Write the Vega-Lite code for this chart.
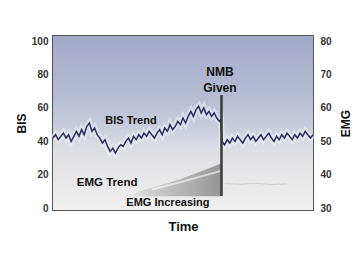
{
  "$schema": "https://vega.github.io/schema/vega-lite/v6.json",
  "width": 260,
  "height": 174,
  "autosize": "none",
  "padding": {"left": 53, "top": 36, "right": 44, "bottom": 50},
  "background": "white",
  "config": {
    "view": {"stroke": "#555555", "strokeWidth": 2},
    "font": "Liberation Sans",
    "axis": {"labelFont": "Liberation Sans", "labelFontWeight": "bold", "labelFontSize": 10, "labelColor": "#333333", "labelOverlap": false, "titleFont": "Liberation Sans", "titleFontWeight": "bold", "titleFontSize": 12, "titleColor": "#111111", "grid": false, "ticks": false, "domain": false}
  },
  "datasets": {
    "bis": [
      {"t":0,"bis":42},{"t":1,"bis":44},{"t":2,"bis":41},{"t":3,"bis":43},{"t":4,"bis":45},{"t":5,"bis":42},{"t":6,"bis":44},{"t":7,"bis":40},{"t":8,"bis":43},{"t":9,"bis":46},
      {"t":10,"bis":43},{"t":11,"bis":47},{"t":12,"bis":44},{"t":13,"bis":49},{"t":14,"bis":51},{"t":15,"bis":46},{"t":16,"bis":48},{"t":17,"bis":44},{"t":18,"bis":42},{"t":19,"bis":39},
      {"t":20,"bis":41},{"t":21,"bis":37},{"t":22,"bis":34},{"t":23,"bis":36},{"t":24,"bis":33},{"t":25,"bis":36},{"t":26,"bis":38},{"t":27,"bis":37},{"t":28,"bis":40},{"t":29,"bis":42},
      {"t":30,"bis":39},{"t":31,"bis":43},{"t":32,"bis":41},{"t":33,"bis":44},{"t":34,"bis":42},{"t":35,"bis":45},{"t":36,"bis":43},{"t":37,"bis":46},{"t":38,"bis":44},{"t":39,"bis":42},
      {"t":40,"bis":45},{"t":41,"bis":47},{"t":42,"bis":44},{"t":43,"bis":48},{"t":44,"bis":46},{"t":45,"bis":50},{"t":46,"bis":47},{"t":47,"bis":49},{"t":48,"bis":52},{"t":49,"bis":50},
      {"t":50,"bis":54},{"t":51,"bis":51},{"t":52,"bis":55},{"t":53,"bis":58},{"t":54,"bis":55},{"t":55,"bis":59},{"t":56,"bis":61},{"t":57,"bis":57},{"t":58,"bis":60},{"t":59,"bis":56},
      {"t":60,"bis":58},{"t":61,"bis":55},{"t":62,"bis":57},{"t":63,"bis":54},{"t":64,"bis":52},{"t":64.6,"bis":53},{"t":65,"bis":40},{"t":66,"bis":38},{"t":67,"bis":41},{"t":68,"bis":39},{"t":69,"bis":42},
      {"t":70,"bis":40},{"t":71,"bis":43},{"t":72,"bis":41},{"t":73,"bis":39},{"t":74,"bis":42},{"t":75,"bis":44},{"t":76,"bis":41},{"t":77,"bis":43},{"t":78,"bis":40},{"t":79,"bis":42},
      {"t":80,"bis":44},{"t":81,"bis":41},{"t":82,"bis":43},{"t":83,"bis":45},{"t":84,"bis":42},{"t":85,"bis":40},{"t":86,"bis":43},{"t":87,"bis":41},{"t":88,"bis":44},{"t":89,"bis":42},
      {"t":90,"bis":45},{"t":91,"bis":43},{"t":92,"bis":41},{"t":93,"bis":44},{"t":94,"bis":42},{"t":95,"bis":45},{"t":96,"bis":43},{"t":97,"bis":46},{"t":98,"bis":44},{"t":99,"bis":42},{"t":100,"bis":44}
    ],
    "emg": [
      {"t":30,"emg":33.8},{"t":33,"emg":35.0},{"t":36,"emg":35.8},{"t":40,"emg":36.6},{"t":44,"emg":37.5},{"t":48,"emg":38.5},{"t":52,"emg":39.6},{"t":56,"emg":40.8},{"t":60,"emg":42.0},{"t":63,"emg":42.9},{"t":64.6,"emg":43.4}
    ],
    "emgStreak": [
      {"t":38,"emg":35.6},{"t":50,"emg":38.0},{"t":64.6,"emg":41.2}
    ],
    "emgPost": [
      {"t":66,"emg":37.4},{"t":72,"emg":37.2},{"t":78,"emg":37.5},{"t":84,"emg":37.1},{"t":90,"emg":37.3}
    ],
    "nmb": [{"t":64.8,"top":67.7,"bottom":7.4}],
    "notes": [
      {"t":30,"bis":52.2,"label":"BIS Trend","size":11},
      {"t":64.2,"bis":81.5,"label":"NMB","size":12},
      {"t":64.2,"bis":72.0,"label":"Given","size":12},
      {"t":20.8,"bis":15.1,"label":"EMG Trend","size":11.5},
      {"t":44.2,"bis":3.2,"label":"EMG Increasing","size":11}
    ]
  },
  "resolve": {"scale": {"y": "independent"}},
  "layer": [
    {
      "layer": [
        {
          "data": {"values": [{}]},
          "mark": {"type": "rect", "fill": {"gradient": "linear", "x1": 0, "y1": 0, "x2": 0, "y2": 1, "stops": [
            {"offset": 0, "color": "#a4a8c8"},
            {"offset": 0.35, "color": "#b7bcd4"},
            {"offset": 0.55, "color": "#cbcfde"},
            {"offset": 0.63, "color": "#dbdce3"},
            {"offset": 0.72, "color": "#e2e2e4"},
            {"offset": 1, "color": "#f0f0f0"}
          ]}},
          "encoding": {
            "x": {"datum": 0, "type": "quantitative", "scale": {"domain": [0, 100], "nice": false}},
            "x2": {"datum": 100},
            "y": {"datum": 29.5, "type": "quantitative", "scale": {"domain": [29.5, 81.5], "nice": false}, "axis": {"orient": "right", "values": [30, 40, 50, 60, 70, 80], "tickCount": 12, "title": "EMG", "titleAngle": 270, "labelPadding": 7, "titleX": 32, "titleBaseline": "middle"}},
            "y2": {"datum": 81.5}
          }
        },
        {
          "data": {"name": "emg"},
          "mark": {"type": "area", "fill": {"gradient": "linear", "x1": 0, "y1": 0, "x2": 1, "y2": 0, "stops": [
            {"offset": 0, "color": "#e2e2e2"},
            {"offset": 0.5, "color": "#b8b8b8"},
            {"offset": 1, "color": "#969696"}
          ]}},
          "encoding": {
            "x": {"field": "t", "type": "quantitative"},
            "y": {"field": "emg", "type": "quantitative"},
            "y2": {"datum": 33.6}
          }
        },
        {
          "data": {"name": "emgStreak"},
          "mark": {"type": "line", "color": "white", "opacity": 0.6, "strokeWidth": 2},
          "encoding": {
            "x": {"field": "t", "type": "quantitative"},
            "y": {"field": "emg", "type": "quantitative"}
          }
        },
        {
          "data": {"name": "emgPost"},
          "mark": {"type": "line", "color": "#cfcfcf", "strokeWidth": 1},
          "encoding": {
            "x": {"field": "t", "type": "quantitative"},
            "y": {"field": "emg", "type": "quantitative"}
          }
        }
      ]
    },
    {
      "layer": [
        {
          "data": {"name": "bis"},
          "mark": {"type": "line", "color": "#eef0f8", "opacity": 0.55, "strokeWidth": 6},
          "encoding": {
            "x": {"field": "t", "type": "quantitative", "scale": {"domain": [0, 100], "nice": false}, "axis": {"labels": false, "title": "Time", "titleFontSize": 13, "titlePadding": 10}},
            "y": {"field": "bis", "type": "quantitative", "scale": {"domain": [-1, 103], "nice": false}, "axis": {"orient": "left", "values": [0, 20, 40, 60, 80, 100], "tickCount": 12, "title": "BIS", "labelPadding": 5, "titleX": -32, "titleBaseline": "middle"}}
          }
        },
        {
          "data": {"name": "bis"},
          "mark": {"type": "line", "color": "#2b2d5c", "strokeWidth": 1.5},
          "encoding": {
            "x": {"field": "t", "type": "quantitative"},
            "y": {"field": "bis", "type": "quantitative"}
          }
        },
        {
          "data": {"name": "nmb"},
          "mark": {"type": "rule", "color": "#3a3a3a", "strokeWidth": 2.5},
          "encoding": {
            "x": {"field": "t", "type": "quantitative"},
            "y": {"field": "top", "type": "quantitative"},
            "y2": {"field": "bottom"}
          }
        },
        {
          "data": {"name": "notes"},
          "mark": {"type": "text", "fontWeight": "bold", "color": "#111111", "align": "center", "baseline": "middle"},
          "encoding": {
            "x": {"field": "t", "type": "quantitative"},
            "y": {"field": "bis", "type": "quantitative"},
            "text": {"field": "label"},
            "size": {"field": "size", "type": "quantitative", "scale": null}
          }
        }
      ]
    }
  ]
}
